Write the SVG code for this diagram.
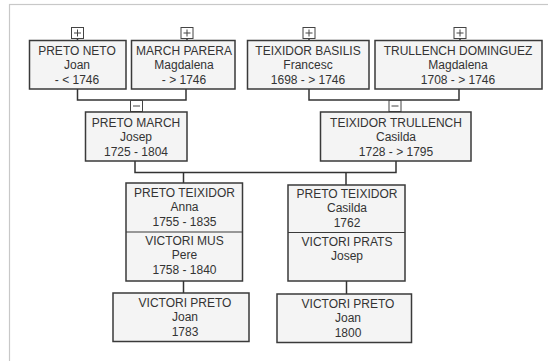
<svg xmlns="http://www.w3.org/2000/svg" width="548" height="361" viewBox="0 0 548 361">
<style>
.box{fill:#f4f4f4;stroke:#3a3a3a;stroke-width:1.5}
.div{stroke:#3a3a3a;stroke-width:1.2}
.t{font-family:"Liberation Sans",Arial,sans-serif;font-size:12px;fill:#333;text-anchor:middle}
.con{fill:none;stroke:#333;stroke-width:1.5}
.tog{fill:#fff;stroke:#444;stroke-width:1}
.sign{stroke:#444;stroke-width:1}
</style>
<rect x="0" y="0" width="548" height="361" fill="#fff"/>
<rect x="9.5" y="4.5" width="560" height="400" fill="none" stroke="#c8c8c8" stroke-width="1.2"/>
<g id="connectors">
<polyline class="con" points="77.5,89 77.5,100 186,100 186,89"/>
<line class="con" x1="136.5" y1="100" x2="136.5" y2="112"/>
<polyline class="con" points="309,89 309,100 459,100 459,89"/>
<line class="con" x1="395" y1="100" x2="395" y2="112"/>
<polyline class="con" points="135,161 135,172.5 396,172.5 396,161"/>
<line class="con" x1="183.5" y1="172.5" x2="183.5" y2="183"/>
<line class="con" x1="346" y1="172.5" x2="346" y2="185"/>
<line class="con" x1="183.5" y1="281" x2="183.5" y2="293"/>
<line class="con" x1="346.5" y1="281" x2="346.5" y2="294"/>
<line class="con" x1="77.5" y1="39" x2="77.5" y2="40"/>
<line class="con" x1="187" y1="39" x2="187" y2="40"/>
<line class="con" x1="309" y1="39" x2="309" y2="40"/>
<line class="con" x1="460" y1="39" x2="460" y2="40"/>
</g>
<g id="tog-preto-neto"><rect class="tog" x="71.5" y="27.5" width="12" height="11"/><path class="sign" d="M74 33H81M77.5 29.5V36.5"/></g>
<g id="tog-march-parera"><rect class="tog" x="181" y="27.5" width="12" height="11"/><path class="sign" d="M183.5 33H190.5M187 29.5V36.5"/></g>
<g id="tog-teixidor-basilis"><rect class="tog" x="303" y="27.5" width="12" height="11"/><path class="sign" d="M305.5 33H312.5M309 29.5V36.5"/></g>
<g id="tog-trullench-dominguez"><rect class="tog" x="454" y="27.5" width="12" height="11"/><path class="sign" d="M456.5 33H463.5M460 29.5V36.5"/></g>
<g id="tog-preto-march"><rect class="tog" x="130.5" y="100.5" width="12" height="11"/><path class="sign" d="M133 106H140"/></g>
<g id="tog-teixidor-trullench"><rect class="tog" x="389" y="100.5" width="12" height="11"/><path class="sign" d="M391.5 106H398.5"/></g>
<g id="preto-neto">
<rect class="box" x="29.5" y="40.5" width="96.5" height="48.5"/>
<text class="t" x="77" y="55">PRETO NETO</text>
<text class="t" x="77" y="69">Joan</text>
<text class="t" x="77" y="84">- &lt; 1746</text>
</g>
<g id="march-parera">
<rect class="box" x="131.5" y="40.5" width="103.5" height="48.5"/>
<text class="t" x="184" y="55">MARCH PARERA</text>
<text class="t" x="184" y="69">Magdalena</text>
<text class="t" x="184" y="84">- &gt; 1746</text>
</g>
<g id="teixidor-basilis">
<rect class="box" x="247.5" y="40.5" width="121.5" height="48.5"/>
<text class="t" x="308" y="55">TEIXIDOR BASILIS</text>
<text class="t" x="308" y="69">Francesc</text>
<text class="t" x="308" y="84">1698 - &gt; 1746</text>
</g>
<g id="trullench-dominguez">
<rect class="box" x="375" y="40.5" width="167" height="48.5"/>
<text class="t" x="458" y="55">TRULLENCH DOMINGUEZ</text>
<text class="t" x="458" y="69">Magdalena</text>
<text class="t" x="458" y="84">1708 - &gt; 1746</text>
</g>
<g id="preto-march">
<rect class="box" x="85.5" y="112" width="101.5" height="49"/>
<text class="t" x="136" y="127">PRETO MARCH</text>
<text class="t" x="136" y="141">Josep</text>
<text class="t" x="136" y="156">1725 - 1804</text>
</g>
<g id="teixidor-trullench">
<rect class="box" x="320.5" y="112" width="150.5" height="49"/>
<text class="t" x="396" y="127">TEIXIDOR TRULLENCH</text>
<text class="t" x="396" y="141">Casilda</text>
<text class="t" x="396" y="156">1728 - &gt; 1795</text>
</g>
<g id="preto-teixidor-anna">
<rect class="box" x="126" y="183" width="116.5" height="98"/>
<line class="div" x1="126" y1="232" x2="242.5" y2="232"/>
<text class="t" x="184.5" y="197">PRETO TEIXIDOR</text>
<text class="t" x="184.5" y="211">Anna</text>
<text class="t" x="184.5" y="226">1755 - 1835</text>
<text class="t" x="184.5" y="245">VICTORI MUS</text>
<text class="t" x="184.5" y="259">Pere</text>
<text class="t" x="184.5" y="274">1758 - 1840</text>
</g>
<g id="preto-teixidor-casilda">
<rect class="box" x="288" y="185" width="117" height="96"/>
<line class="div" x1="288" y1="232.5" x2="405" y2="232.5"/>
<text class="t" x="347" y="198">PRETO TEIXIDOR</text>
<text class="t" x="347" y="212">Casilda</text>
<text class="t" x="347" y="227">1762</text>
<text class="t" x="347" y="246">VICTORI PRATS</text>
<text class="t" x="347" y="260">Josep</text>
</g>
<g id="victori-preto-1783">
<rect class="box" x="113" y="293" width="136" height="48.5"/>
<text class="t" x="185" y="306.5">VICTORI PRETO</text>
<text class="t" x="185" y="320.5">Joan</text>
<text class="t" x="185" y="335.5">1783</text>
</g>
<g id="victori-preto-1800">
<rect class="box" x="277" y="294" width="134.5" height="48.5"/>
<text class="t" x="348" y="307.5">VICTORI PRETO</text>
<text class="t" x="348" y="321.5">Joan</text>
<text class="t" x="348" y="336.5">1800</text>
</g>
</svg>
